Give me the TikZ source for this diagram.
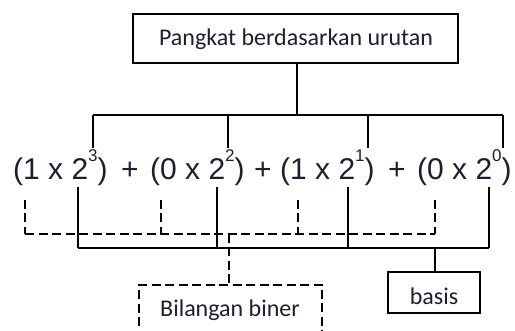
\documentclass[tikz,border=0pt]{standalone}
\usepackage{fontspec}
\setmainfont{Carlito}
\newfontfamily\arialfont{Liberation Sans}
\definecolor{txt}{HTML}{1E1E30}
\newcommand{\expo}[1]{\raisebox{18pt}{\fontsize{17}{17}\selectfont #1}}
\begin{document}
\begin{tikzpicture}[x=1pt,y=-1pt,
  ln/.style={line width=1.4pt, black},
  dln/.style={line width=1.4pt, black, dash pattern=on 9pt off 4.5pt},
  lbl/.style={font=\fontsize{24}{24}\selectfont, text=txt, inner sep=0pt},
  eq/.style={font=\arialfont\fontsize{30}{30}\selectfont, text=txt, inner sep=0pt, anchor=base west},
  pl/.style={font=\arialfont\fontsize{30}{30}\selectfont, text=txt, inner sep=0pt, anchor=base}]
\useasboundingbox (0,0) rectangle (515,331);
% boxes
\draw[ln] (133,14) rectangle (458,63);
\node[lbl, anchor=base] (top) at (296,46) {Pangkat berdasarkan urutan};
\draw[ln] (388,272) rectangle (480,313);
\node[lbl, anchor=base] (basis) at (434,305) {basis};
\draw[dln] (139,340) -- (139,285) -- (322,285) -- (322,340);
\node[lbl, anchor=base] (biner) at (230,317) {Bilangan biner};
% equation
\node[eq] (g1) at (13,180) {(1 x 2\expo{3})};
\node[pl] (p1) at (130,180) {+};
\node[eq] (g2) at (150,180) {(0 x 2\expo{2})};
\node[pl] (p2) at (263,180) {+};
\node[eq] (g3) at (280,180) {(1 x 2\expo{1})};
\node[pl] (p3) at (397,180) {+};
\node[eq] (g4) at (417,180) {(0 x 2\expo{0})};
% coordinates
\coordinate (tb) at (297,63);
\coordinate (tj) at (297,115);
\foreach \n/\x in {1/93,2/228,3/368,4/503} {
  \coordinate (e\n) at (\x,148);
  \coordinate (eh\n) at (\x,115);
}
\foreach \n/\x in {1/78,2/217,3/348,4/489} {
  \coordinate (b\n) at (\x,187);
  \coordinate (bh\n) at (\x,248);
}
\foreach \n/\x in {1/25,2/161,3/298,4/435} {
  \coordinate (c\n) at (\x,200);
  \coordinate (ch\n) at (\x,234);
}
\coordinate (dj) at (229,234);
\coordinate (sj) at (435,248);
% top connectors
\draw[ln] (tb) -- (tj);
\draw[ln] (eh1) -- (eh4);
\foreach \n in {1,2,3,4} \draw[ln] (eh\n) -- (e\n);
% solid base connectors
\draw[ln] (bh1) -- (bh4);
\foreach \n in {1,2,3,4} \draw[ln] (b\n) -- (bh\n);
\draw[ln] (sj) -- (sj |- 272,272);
% dashed digit connectors
\draw[dln] (ch1) -- (ch4);
\foreach \n in {1,2,3,4} \draw[dln] (c\n) -- (ch\n);
\draw[dln] (dj) -- (dj |- 285,285);
\end{tikzpicture}
\end{document}
